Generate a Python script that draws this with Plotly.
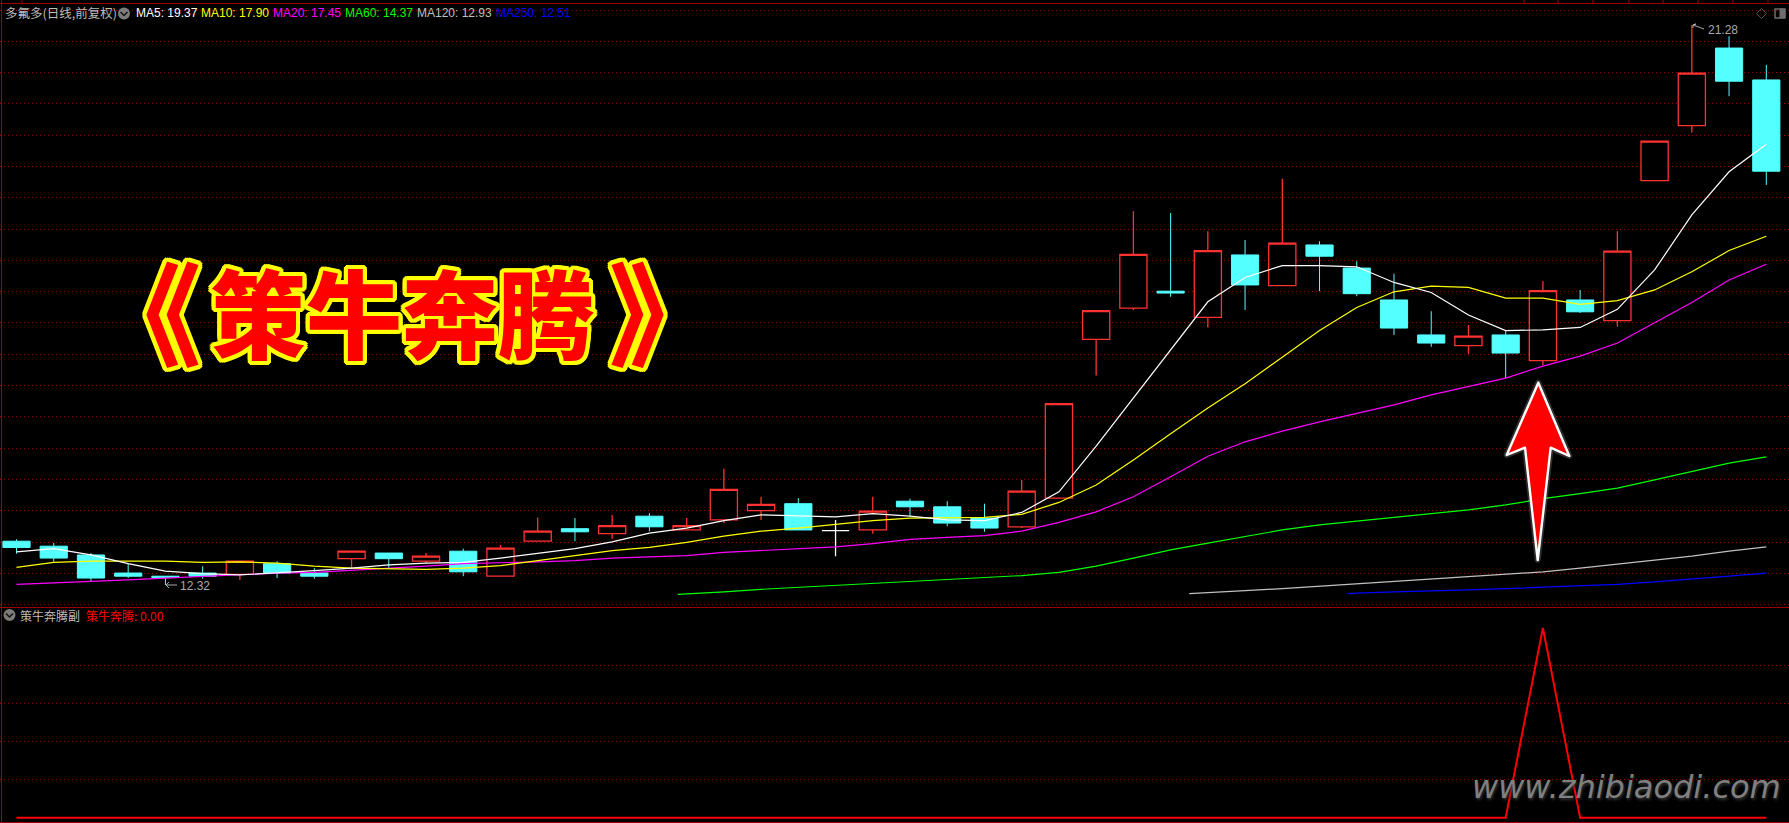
import plotly.graph_objects as go

# ---------- data (prices) ----------
OPEN = [13.02,12.94,12.80,12.51,12.46,12.51,12.49,12.66,12.51,12.74,12.83,12.70,12.86,12.46,13.02,13.22,
        13.14,13.42,13.20,13.36,13.51,13.62,13.19,13.20,13.66,13.57,13.39,13.25,13.71,16.25,16.75,17.02,
        16.60,17.60,17.11,17.76,17.39,16.88,16.32,16.15,16.32,15.91,16.88,16.55,18.79,19.67,20.91,20.40]
CLOSE = [12.92,12.75,12.43,12.46,12.44,12.46,12.70,12.51,12.46,12.86,12.74,12.78,12.53,12.91,13.18,13.17,
         13.27,13.25,13.27,13.85,13.61,13.20,13.19,13.50,13.57,13.31,13.23,13.82,15.22,16.71,17.61,16.99,
         17.67,17.12,17.79,17.58,16.98,16.43,16.19,16.30,16.03,17.03,16.69,17.66,19.42,20.51,20.38,18.94]
HIGH = [13.05,12.99,12.83,12.66,12.46,12.62,12.70,12.70,12.59,12.86,12.83,12.83,12.90,12.96,13.40,13.39,
        13.44,13.47,13.39,14.18,13.73,13.71,13.36,13.73,13.70,13.66,13.62,14.00,15.22,16.71,18.30,18.27,
        17.98,17.84,18.82,17.82,17.50,17.30,16.70,16.48,16.40,17.18,17.04,17.98,19.42,21.28,21.10,20.64]
LOW = [12.82,12.69,12.38,12.43,12.32,12.42,12.40,12.43,12.42,12.59,12.59,12.67,12.46,12.46,13.02,13.02,
       13.06,13.18,13.20,13.31,13.36,13.20,12.78,13.14,13.42,13.26,13.17,13.23,13.71,15.67,16.72,16.93,
       16.44,16.72,17.11,17.02,16.94,16.32,16.13,16.02,15.63,15.84,16.67,16.45,18.79,19.56,20.14,18.72]
DOJI_INDEX = 22

MA5 = [12.85,12.90,12.80,12.66,12.54,12.50,12.48,12.51,12.55,12.59,12.64,12.67,12.68,12.75,12.83,12.90,
       13.01,13.15,13.23,13.35,13.44,13.43,13.41,13.46,13.42,13.36,13.35,13.48,13.81,14.54,15.31,16.08,
       16.85,17.24,17.43,17.43,17.41,17.16,17.00,16.64,16.39,16.40,16.44,16.73,17.36,18.24,18.93,19.37]
MA10 = [12.60,12.68,12.70,12.70,12.70,12.68,12.69,12.67,12.62,12.59,12.58,12.57,12.59,12.63,12.71,12.79,
        12.87,12.92,13.00,13.10,13.18,13.23,13.29,13.35,13.39,13.40,13.40,13.45,13.64,13.92,14.32,14.74,
        15.15,15.54,15.97,16.39,16.76,17.01,17.10,17.08,16.91,16.91,16.81,16.87,17.04,17.33,17.67,17.90]
MA20 = [12.33,12.35,12.37,12.40,12.43,12.46,12.48,12.51,12.52,12.55,12.58,12.62,12.66,12.67,12.69,12.71,
        12.75,12.77,12.79,12.84,12.87,12.90,12.93,12.98,13.05,13.08,13.11,13.18,13.32,13.49,13.73,14.05,
        14.38,14.61,14.78,14.93,15.06,15.20,15.36,15.49,15.63,15.82,15.98,16.19,16.51,16.84,17.20,17.45]
MA60_X = [17.76] + list(range(18, 48))
MA60 = [12.17,12.18,12.21,12.25,12.28,12.31,12.35,12.37,12.40,12.43,12.47,12.52,12.62,12.75,12.88,12.99,
        13.10,13.20,13.28,13.34,13.41,13.46,13.52,13.60,13.70,13.78,13.87,14.00,14.13,14.27,14.37]
MA120_X = [31.5] + list(range(32, 48))
MA120 = [12.18,12.20,12.23,12.26,12.30,12.34,12.37,12.41,12.45,12.49,12.53,12.59,12.65,12.71,12.78,12.86,12.93]
MA250_X = [35.75] + list(range(36, 48))
MA250 = [12.18,12.19,12.21,12.22,12.24,12.26,12.28,12.30,12.33,12.37,12.41,12.46,12.51]
SIGNAL = [0]*41 + [1] + [0]*6

HEADER = [("MA5: 19.37", "#ffffff", 135), ("MA10: 17.90", "#ffff00", 200), ("MA20: 17.45", "#ff00ff", 272),
          ("MA60: 14.37", "#00ff00", 344), ("MA120: 12.93", "#c0c0c0", 416), ("MA250: 12.51", "#0000ff", 495)]

# ---------- layout helpers (pixels of the 1789x823 page) ----------
W, H = 1789, 823
def fx(x): return x / W
def fy(y): return 1 - y / H
def path(points, close=True):
    s = "M " + " L ".join(f"{fx(x):.5f},{fy(y):.5f}" for x, y in points)
    return s + (" Z" if close else "")

RED = "#ff3232"; CYAN = "#54ffff"; BORDER = "#a00000"; GRID = "#a00000"
xs = list(range(len(OPEN)))
keep = [i for i in xs if i != DOJI_INDEX]
fig = go.Figure()
fig.add_trace(go.Candlestick(x=keep, open=[OPEN[i] for i in keep], close=[CLOSE[i] for i in keep],
    high=[HIGH[i] for i in keep], low=[LOW[i] for i in keep], whiskerwidth=0,
    increasing=dict(line=dict(color=RED, width=1.3), fillcolor="#000000"),
    decreasing=dict(line=dict(color=CYAN, width=1), fillcolor=CYAN)))
fig.add_trace(go.Candlestick(x=[DOJI_INDEX], open=[OPEN[DOJI_INDEX]], close=[CLOSE[DOJI_INDEX]],
    high=[HIGH[DOJI_INDEX]], low=[LOW[DOJI_INDEX]], whiskerwidth=0,
    increasing=dict(line=dict(color="#ffffff", width=1.3), fillcolor="#ffffff"),
    decreasing=dict(line=dict(color="#ffffff", width=1.3), fillcolor="#ffffff")))
for x, y, c in [(MA250_X, MA250, "#0000ff"), (MA120_X, MA120, "#c0c0c0"), (MA60_X, MA60, "#00ff00"),
                (xs, MA20, "#ff00ff"), (xs, MA10, "#ffff00"), (xs, MA5, "#ffffff")]:
    fig.add_trace(go.Scatter(x=x, y=y, mode="lines", line=dict(color=c, width=1.2)))
fig.add_trace(go.Scatter(x=xs, y=SIGNAL, mode="lines", line=dict(color="#ff0000", width=2),
                         xaxis="x2", yaxis="y2"))

shapes = []
def seg(pts, color=BORDER, width=1, fill=None, close=False):
    shapes.append(dict(type="path", xref="paper", yref="paper", path=path(pts, close),
                       line=dict(color=color, width=width), fillcolor=fill, layer="above"))
# frame
for y in (3.5, 607.5, 822.5):
    seg([(0, y), (W, y)])
seg([(1.5, 0), (1.5, H)])
for x in (22, 1524, 1558, 1593, 1629, 1663, 1698, 1733, 1768):
    seg([(x, 0), (x, 3)])
# header icons
def chevron_icon(cx, cy):
    shapes.append(dict(type="circle", xref="paper", yref="paper", x0=fx(cx-6), x1=fx(cx+6), y0=fy(cy+6), y1=fy(cy-6),
                       fillcolor="#7c7c7c", line=dict(width=0), layer="above"))
    seg([(cx-3.5, cy-1.5), (cx, cy+2), (cx+3.5, cy-1.5)], color="#151515", width=1.6)
chevron_icon(124, 13.5)
chevron_icon(9.5, 615)
seg([(1761.5, 8.5), (1766.5, 13.5), (1761.5, 18.5), (1756.5, 13.5)], color="#555555", width=1, close=True)
seg([(1775, 9), (1785, 9), (1785, 18), (1775, 18)], color="#6e6e6e", width=1.5, close=True)
seg([(1780, 9), (1785, 9), (1785, 18), (1780, 18)], color="#6e6e6e", width=1, fill="#6e6e6e", close=True)
# high / low markers
seg([(1693, 25), (1704, 29)], color="#aaaaaa")
seg([(1693, 25), (1696, 24), (1693, 25), (1693, 28)], color="#aaaaaa")
seg([(166, 585), (177, 585)], color="#aaaaaa")
seg([(169, 582), (166, 585), (169, 588)], color="#aaaaaa")
# big arrow
ARROW = [(1538.3, 382.7), (1569.3, 456), (1550.7, 447.7), (1537.7, 560), (1525, 447.7), (1506.7, 455)]
seg(ARROW, color="rgba(255,255,255,0.18)", width=6, close=True)
seg(ARROW, color="#ffffff", width=2.4, fill="#ff0000", close=True)

def note(text, x, y, size, color, anchor="left", family="Liberation Sans", **font):
    return dict(text=text, xref="paper", yref="paper", x=fx(x), y=fy(y), xanchor=anchor, yanchor="middle",
                showarrow=False, align="left", borderpad=0,
                font=dict(family=family, size=size, color=color, **font))

CJK = "Noto Sans CJK SC"
outline = ",".join(f"{dx}px {dy}px 0 #ffff00" for dx, dy in
                   [(4,0),(-4,0),(0,4),(0,-4),(3,3),(-3,3),(3,-3),(-3,-3),(4,2),(-4,2),(4,-2),(-4,-2),(2,4),(-2,4),(2,-4),(-2,-4)])
annotations = [
    note("多氟多(日线,前复权)", 4, 13, 12.5, "#bdbdbd", family=CJK),
    note("策牛奔腾副", 19, 615, 12, "#bdbdbd", family=CJK),
    note("策牛奔腾: 0.00", 85, 615, 12, "#ff0000", family=CJK),
    note("21.28", 1706.5, 30, 12, "#aaaaaa"),
    note("12.32", 179, 586, 12, "#aaaaaa"),
    note("《", 145.4, 309, 112, "#ff0000", anchor="center", family=CJK, weight=900, shadow=outline),
    note("策牛奔腾", 402, 309, 96, "#ff0000", anchor="center", family=CJK, weight=900, shadow=outline),
    note("》", 664.7, 309, 112, "#ff0000", anchor="center", family=CJK, weight=900, shadow=outline),
    note("www.zhibiaodi.com", 1626, 787, 32, "#808080", anchor="center", family="DejaVu Sans", style="italic",
         shadow="1px 2px 3px #333333"),
]
for text, color, x in HEADER:
    annotations.append(note(text, x, 13, 12, color))

fig.update_layout(
    width=W, height=H, margin=dict(l=0, r=0, t=0, b=0), paper_bgcolor="#000000", plot_bgcolor="#000000",
    showlegend=False, hovermode=False, boxmode="overlay", boxgap=0.27, boxgroupgap=0,
    xaxis=dict(domain=[0, 1], range=[-0.443, 47.61], visible=False, rangeslider=dict(visible=False), fixedrange=True),
    xaxis2=dict(domain=[0, 1], range=[-0.443, 47.61], visible=False, anchor="y2", fixedrange=True),
    yaxis=dict(domain=[fy(607.5), fy(3.5)], range=[21.679-0.016*607.5, 21.679-0.016*3.5], tick0=12.506, dtick=0.5007,
               showgrid=True, gridcolor=GRID, griddash="1px,3px", gridwidth=1, zeroline=False, showticklabels=False,
               ticks="", fixedrange=True),
    yaxis2=dict(domain=[fy(822.5), fy(607.5)], range=[(817.7-822.5)/189.7, (817.7-607.5)/189.7], anchor="x2",
                tickvals=[0.2, 0.4, 0.6, 0.8], showgrid=True, gridcolor=GRID, griddash="1px,3px", gridwidth=1,
                zeroline=False, showticklabels=False, ticks="", fixedrange=True),
    shapes=shapes, annotations=annotations,
)
post = """
document.body.style.margin='0';document.body.style.overflow='hidden';document.body.style.background='#000';
document.querySelectorAll('.shapelayer path').forEach(function(p){p.style.strokeLinejoin='round';});
"""
fig.write_html("out.html", post_script=post, config=dict(displayModeBar=False))
